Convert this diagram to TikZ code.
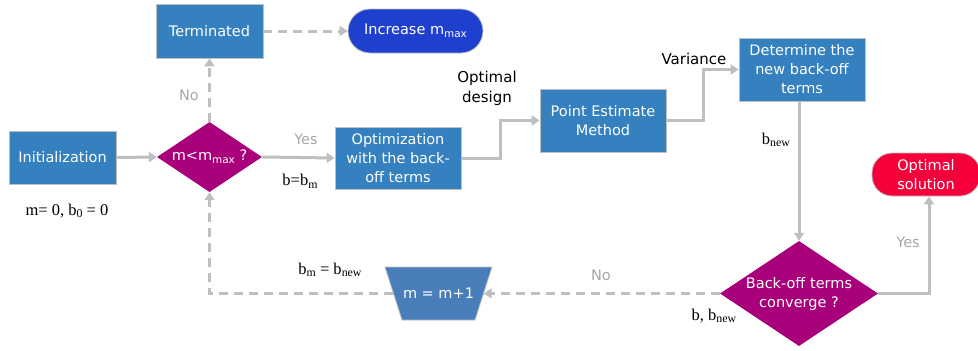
\documentclass[tikz,border=0pt]{standalone}
\usepackage{fontspec}
\setmainfont{Liberation Serif}
\setsansfont{DejaVu Sans}
\usetikzlibrary{shapes.geometric,arrows.meta}
\definecolor{boxblue}{HTML}{3580BE}
\definecolor{trapblue}{HTML}{4A7EBB}
\definecolor{dmag}{HTML}{A8007A}
\definecolor{incblue}{HTML}{1F3FCF}
\definecolor{optred}{HTML}{F5003A}
\definecolor{arrgrey}{HTML}{BFBFBF}
\definecolor{labgrey}{HTML}{A6A6A6}
\newcommand{\sbs}[1]{\raisebox{-0.35ex}{\scalebox{0.72}{#1}}}
\tikzset{
  bluebox/.style={rectangle, fill=boxblue, draw=arrgrey, line width=0.8pt, text=white, font=\sffamily\fontsize{14.5}{19}\selectfont, align=center, inner sep=0pt},
  dia/.style={diamond, fill=dmag, draw=none, inner sep=0pt},
  diatext/.style={text=white, font=\sffamily\fontsize{14.5}{19}\selectfont, align=center},
  conn/.style={draw=arrgrey, line width=3pt, -{Triangle[length=8pt,width=10pt]}},
  dconn/.style={conn, dash pattern=on 9pt off 6pt},
  ylab/.style={text=labgrey, font=\sffamily\fontsize{14.5}{19}\selectfont},
  blab/.style={text=black, font=\sffamily\fontsize{15}{20}\selectfont, align=center},
  tlab/.style={text=black, font=\fontsize{16.5}{19}\selectfont},
}
\begin{document}
\begin{tikzpicture}[x=1pt,y=-1pt]
\useasboundingbox (0,0) rectangle (978,351);
% nodes
\node[bluebox, minimum width=107pt, minimum height=53pt] (init) at (62.5,157.5) {Initialization};
\node[dia, minimum width=105pt, minimum height=70pt] (d1) at (209.5,157) {};
\node[diatext] (d1t) at (209.5,157) {m<m\sbs{max} ?};
\node[bluebox, minimum width=107pt, minimum height=54pt] (term) at (209.5,31) {Terminated};
\node[rectangle, rounded corners=22pt, fill=incblue, draw=arrgrey, line width=0.8pt, minimum width=135pt, minimum height=44pt, text=white, font=\sffamily\fontsize{14.5}{19}\selectfont] (inc) at (415.5,31) {Increase m\sbs{max}};
\node[bluebox, minimum width=126pt, minimum height=62pt] (opt) at (398,158) {Optimization\\with the back-\\off terms};
\node[bluebox, minimum width=126pt, minimum height=63pt] (pem) at (603,120.5) {Point Estimate\\Method};
\node[bluebox, minimum width=126pt, minimum height=63pt] (det) at (802,69.5) {Determine the\\new back-off\\terms};
\node[rectangle, rounded corners=20pt, fill=optred, draw=arrgrey, line width=0.8pt, minimum width=108pt, minimum height=43pt, text=white, align=center, font=\sffamily\fontsize{14.5}{19}\selectfont] (sol) at (926,174.5) {Optimal\\solution};
\node[dia, minimum width=158pt, minimum height=105pt] (d2) at (799,293.5) {};
\node[diatext] (d2t) at (799,293.5) {Back-off terms\\converge ?};
% trapezoid
\node[rectangle, minimum width=90pt, minimum height=53pt, inner sep=0pt] (inc1) at (438.5,293.5) {};
\fill[trapblue, draw=arrgrey, line width=0.8pt] (385,267) -- (492,267) -- (475,320) -- (402,320) -- cycle;
\node[text=white, font=\sffamily\fontsize{14.5}{19}\selectfont] (inc1t) at (438.5,293.5) {m = m+1};
% corners
\coordinate (c1) at (500,158);
\coordinate (c2) at (500,120.5);
\coordinate (c3) at (703,120.5);
\coordinate (c4) at (703,69.5);
\coordinate (c5) at (929,293.5);
\coordinate (c6) at (209.5,293.5);
% connectors
\draw[conn] (init.east) -- (d1.west);
\draw[conn] (d1.east) -- (opt.west);
\draw[dconn] (d1.north) -- (term.south);
\draw[dconn] (term.east) -- (inc.west);
\draw[conn] (opt.east) -- (c1) -- (c2) -- (pem.west);
\draw[conn] (pem.east) -- (c3) -- (c4) -- (det.west);
\draw[conn] (det.south -| d2.north) -- (d2.north);
\draw[conn] (d2.east) -- (c5) -- (c5 |- sol.south);
\draw[dconn] (d2.west) -- (inc1.east);
\draw[dconn] (inc1.west) -- (c6) -- (d1.south);
% labels
\node[ylab] (yes1) at (306,139) {Yes};
\node[ylab] (no1) at (189,95) {No};
\node[ylab] (no2) at (601,275) {No};
\node[ylab] (yes2) at (908,242) {Yes};
\node[tlab] (bbm) at (300,181) {b=b\sbs{m}};
\node[tlab] (init0) at (67,211) {m= 0, b\sbs{0} = 0};
\node[tlab] (bnew) at (776,140) {b\sbs{new}};
\node[tlab] (bmnew) at (330,270) {b\sbs{m} = b\sbs{new}};
\node[tlab] (bbnew) at (714,316) {b, b\sbs{new}};
\node[blab] (odes) at (487,88) {Optimal\\design};
\node[blab] (var) at (694,59) {Variance};
\end{tikzpicture}
\end{document}
